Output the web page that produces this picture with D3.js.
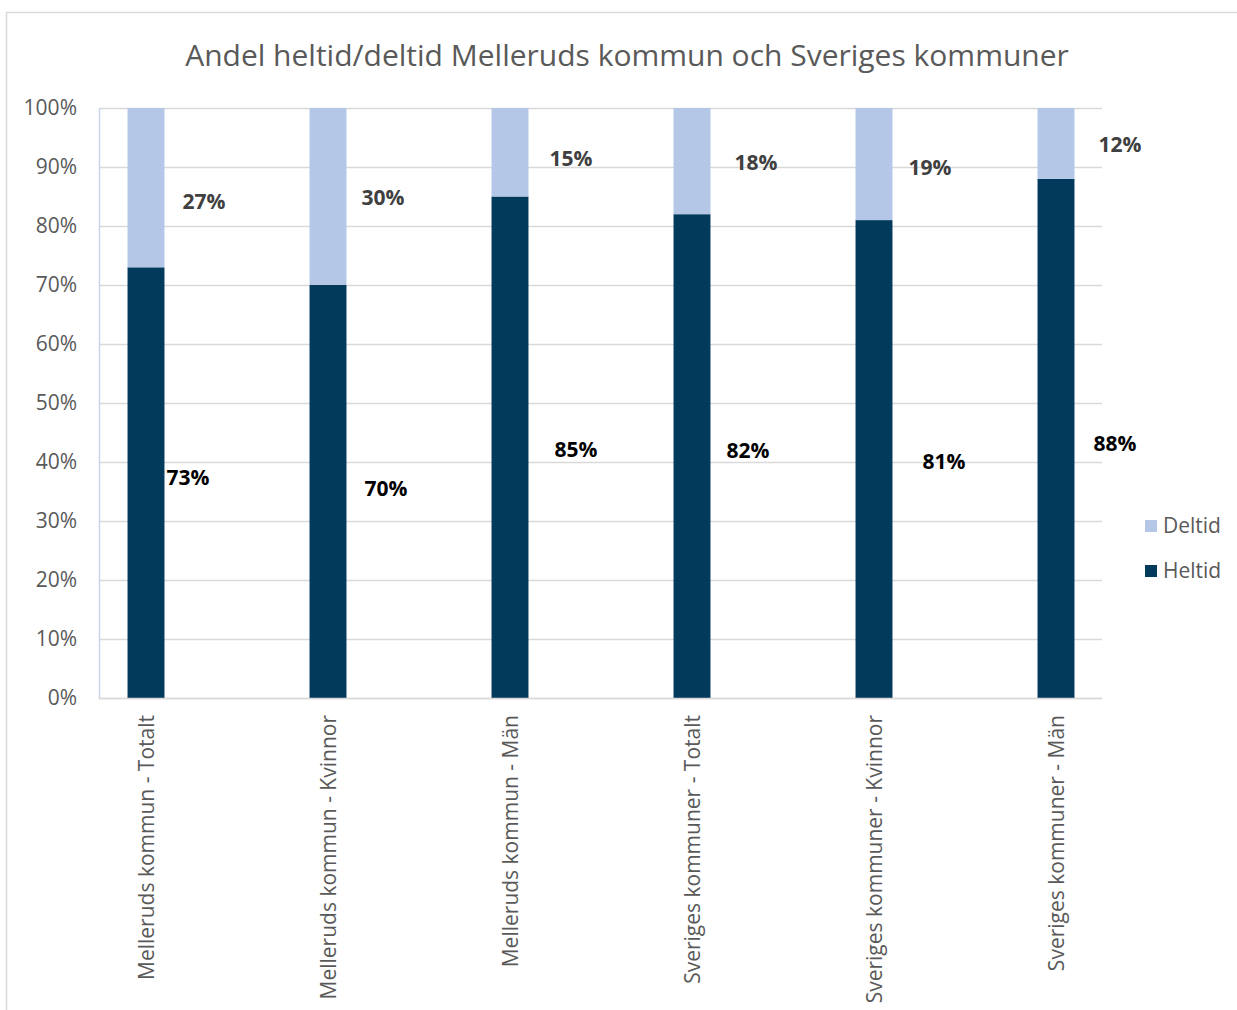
<!DOCTYPE html>
<html>
<head>
<meta charset="utf-8">
<script src="https://cdn.jsdelivr.net/npm/d3@7"></script>
<style>
  body { margin: 0; background: #fff; }
  svg { display: block; font-family: 'Open Sans', sans-serif; }
</style>
</head>
<body>
<div id="chart-area"></div>
<script>
var categories = [
  'Melleruds kommun - Totalt',
  'Melleruds kommun - Kvinnor',
  'Melleruds kommun - Män',
  'Sveriges kommuner - Totalt',
  'Sveriges kommuner - Kvinnor',
  'Sveriges kommuner - Män'
];
var heltid = [73, 70, 85, 82, 81, 88];
var deltid = [27, 30, 15, 18, 19, 12];
var yTicks = [0, 10, 20, 30, 40, 50, 60, 70, 80, 90, 100];

// label nudges (pixels), labels were hand-placed in the original
var heltidNudge = [[42, -6], [58, -4], [66, 2], [56, -6], [70, 2], [59, 5]];
var deltidNudge = [[58, 13], [55, 0], [61, 6], [64, 1], [56, 3], [64, 1]];

var width = 1237, height = 1010;
var plot = { left: 99, right: 1102, top: 108, bottom: 698 };

var svg = d3.select('#chart-area')
  .append('svg')
  .attr('width', width)
  .attr('height', height);

// outer frame
svg.append('rect')
  .attr('x', 6.5).attr('y', 12.5)
  .attr('width', 1300).attr('height', 1100)
  .attr('fill', 'none')
  .attr('stroke', '#d9d9d9')
  .attr('stroke-width', 1.5);

// Title
svg.append('text')
  .attr('x', 627)
  .attr('y', 66)
  .attr('text-anchor', 'middle')
  .attr('font-size', '30px')
  .attr('fill', '#595959')
  .text('Andel heltid/deltid Melleruds kommun och Sveriges kommuner');

var y = d3.scaleLinear()
  .domain([0, 100])
  .range([plot.bottom, plot.top]);

var x = d3.scaleBand()
  .domain(categories)
  .range([55, 1147])
  .paddingInner(0.797)
  .paddingOuter(0.3985);

// grid lines
svg.append('g')
  .selectAll('line')
  .data(yTicks)
  .enter()
  .append('line')
    .attr('x1', plot.left)
    .attr('x2', plot.right)
    .attr('y1', function(d) { return Math.round(y(d)) + 0.5; })
    .attr('y2', function(d) { return Math.round(y(d)) + 0.5; })
    .attr('stroke', '#d9d9d9')
    .attr('stroke-width', 1.5);

// Y Axis
var yAxisCall = d3.axisLeft(y)
  .tickValues(yTicks)
  .tickSize(0)
  .tickPadding(22)
  .tickFormat(function(d) { return d + '%'; });

var yAxisGroup = svg.append('g')
  .attr('transform', 'translate(' + plot.left + ', 0)')
  .call(yAxisCall);
yAxisGroup.select('.domain').attr('stroke', '#c9d5ea').attr('stroke-width', 1.5);
yAxisGroup.selectAll('text')
  .attr('font-size', '21px')
  .attr('fill', '#595959')
  .attr('font-family', "'Open Sans', sans-serif");

// stacked data
var rows = categories.map(function(c, i) {
  return { cat: c, Heltid: heltid[i], Deltid: deltid[i] };
});
var stack = d3.stack().keys(['Heltid', 'Deltid']);
var series = stack(rows);
var colors = { Heltid: '#023a5b', Deltid: '#b4c7e7' };

svg.append('g')
  .selectAll('g')
  .data(series)
  .enter()
  .append('g')
    .attr('fill', function(s) { return colors[s.key]; })
  .selectAll('rect')
  .data(function(s) { return s; })
  .enter()
  .append('rect')
    .attr('x', function(d) { return x(d.data.cat); })
    .attr('width', x.bandwidth())
    .attr('y', function(d) { return y(d[1]); })
    .attr('height', function(d) { return y(d[0]) - y(d[1]); });

// bottom axis line
svg.append('line')
  .attr('x1', plot.left).attr('x2', plot.right)
  .attr('y1', plot.bottom + 0.5).attr('y2', plot.bottom + 0.5)
  .attr('stroke', '#d9d9d9')
  .attr('stroke-width', 1.5);

// category labels
svg.append('g')
  .selectAll('text')
  .data(categories)
  .enter()
  .append('text')
    .attr('transform', function(d) {
      return 'translate(' + (x(d) + x.bandwidth() / 2 + 8) + ', 715) rotate(-90)';
    })
    .attr('text-anchor', 'end')
    .attr('font-size', '21px')
    .attr('fill', '#595959')
    .text(function(d) { return d; });

// data labels
series.forEach(function(s) {
  var nudge = s.key === 'Heltid' ? heltidNudge : deltidNudge;
  svg.append('g')
    .selectAll('text')
    .data(s)
    .enter()
    .append('text')
      .attr('x', function(d, i) { return x(d.data.cat) + x.bandwidth() / 2 + nudge[i][0]; })
      .attr('y', function(d, i) { return y((d[0] + d[1]) / 2) + nudge[i][1] + 8; })
      .attr('text-anchor', 'middle')
      .attr('font-size', '21px')
      .attr('font-weight', 'bold')
      .attr('fill', s.key === 'Heltid' ? '#000000' : '#404040')
      .text(function(d) { return (d[1] - d[0]) + '%'; });
});

// Legend
var legendKeys = ['Deltid', 'Heltid'];
var legend = svg.append('g')
  .selectAll('g')
  .data(legendKeys)
  .enter()
  .append('g')
    .attr('transform', function(d, i) { return 'translate(1145, ' + (520 + i * 45) + ')'; });
legend.append('rect')
  .attr('width', 12).attr('height', 12)
  .attr('fill', function(d) { return colors[d]; });
legend.append('text')
  .attr('x', 18)
  .attr('y', 13)
  .attr('font-size', '21px')
  .attr('fill', '#595959')
  .text(function(d) { return d; });
</script>
</body>
</html>
